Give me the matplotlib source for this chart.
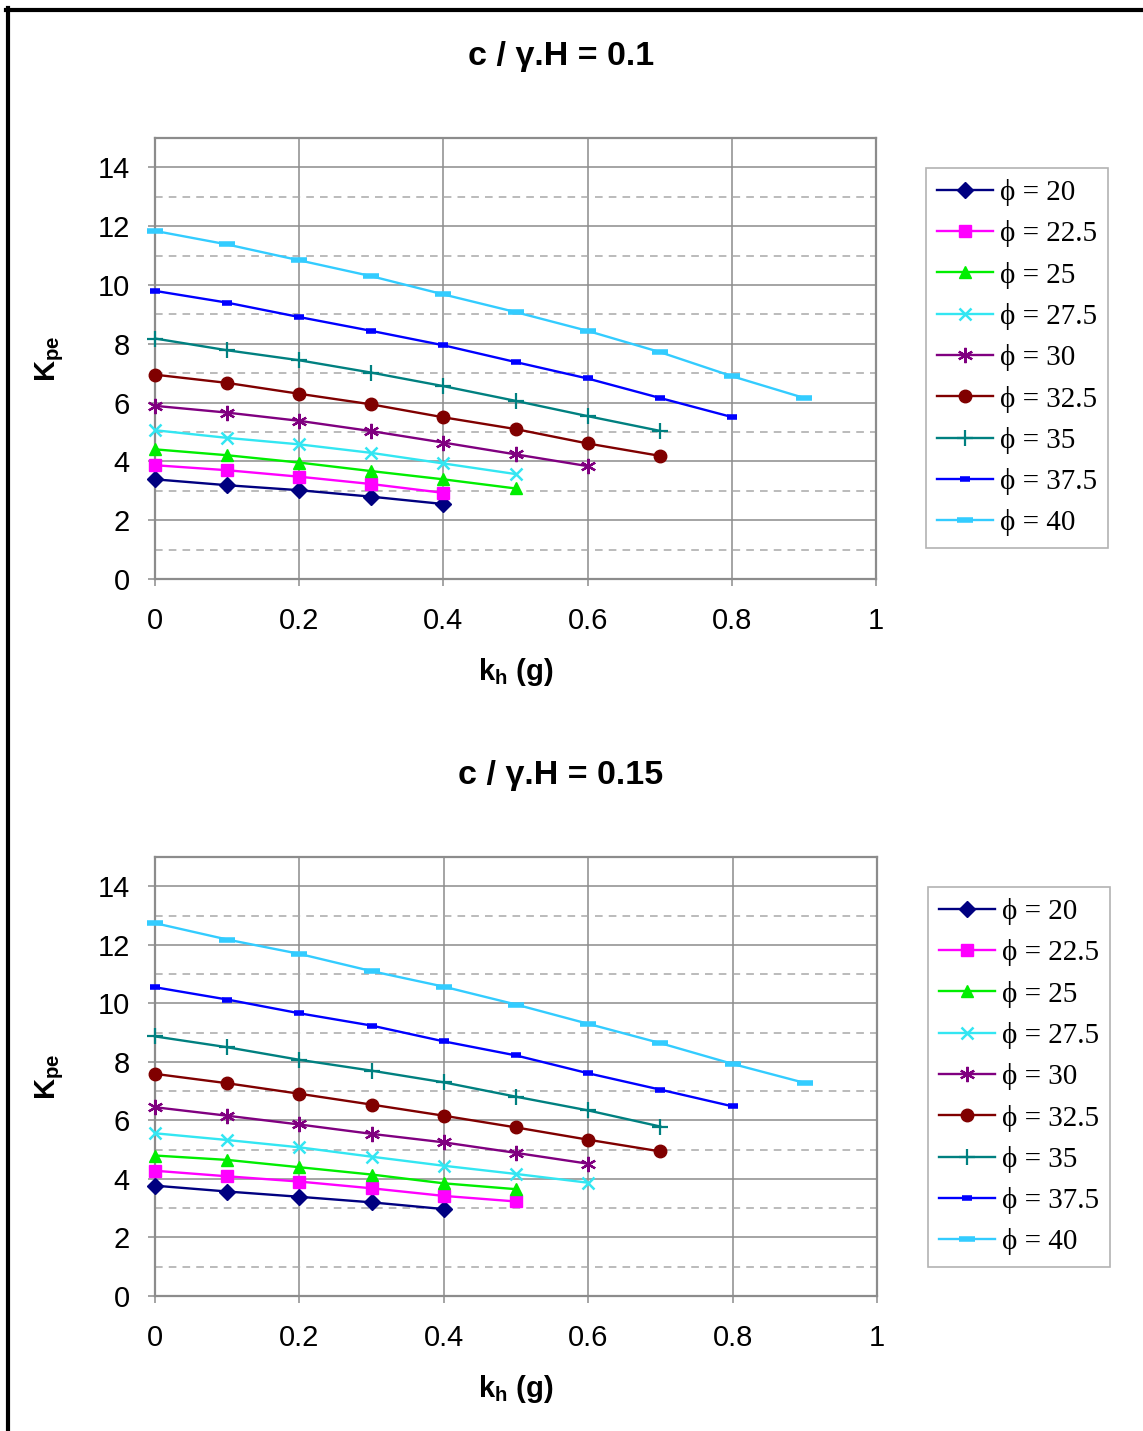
import matplotlib
matplotlib.use("Agg")
import matplotlib.pyplot as plt
from matplotlib.lines import Line2D
from matplotlib.ticker import FixedLocator

plt.rcParams["font.family"] = ["Liberation Sans", "DejaVu Sans"]
plt.rcParams["mathtext.fontset"] = "custom"
plt.rcParams["mathtext.rm"] = "Liberation Sans"
plt.rcParams["mathtext.bf"] = "Liberation Sans:bold"
plt.rcParams["mathtext.it"] = "Liberation Sans:italic"

# Horizontal seismic coefficient k_h (g)
kh = [0.0, 0.1, 0.2, 0.3, 0.4, 0.5, 0.6, 0.7, 0.8, 0.9]

# Friction angles (degrees)
phi = ["20", "22.5", "25", "27.5", "30", "32.5", "35", "37.5", "40"]

# Kpe for c / (gamma H) = 0.1
kpe_c010_phi20 = [3.39, 3.19, 3.02, 2.80, 2.55]
kpe_c010_phi225 = [3.87, 3.70, 3.48, 3.23, 2.93]
kpe_c010_phi25 = [4.41, 4.21, 3.96, 3.67, 3.39, 3.08]
kpe_c010_phi275 = [5.06, 4.80, 4.58, 4.29, 3.93, 3.57]
kpe_c010_phi30 = [5.89, 5.66, 5.38, 5.03, 4.64, 4.24, 3.84]
kpe_c010_phi325 = [6.95, 6.67, 6.30, 5.94, 5.50, 5.10, 4.61, 4.19]
kpe_c010_phi35 = [8.18, 7.78, 7.44, 7.02, 6.56, 6.06, 5.54, 5.04]
kpe_c010_phi375 = [9.80, 9.40, 8.91, 8.44, 7.95, 7.38, 6.82, 6.16, 5.51]
kpe_c010_phi40 = [11.84, 11.38, 10.84, 10.30, 9.68, 9.08, 8.44, 7.72, 6.90, 6.16]

# Kpe for c / (gamma H) = 0.15
kpe_c015_phi20 = [3.77, 3.57, 3.39, 3.20, 2.97]
kpe_c015_phi225 = [4.28, 4.09, 3.91, 3.68, 3.42, 3.23]
kpe_c015_phi25 = [4.80, 4.65, 4.40, 4.15, 3.85, 3.65]
kpe_c015_phi275 = [5.56, 5.33, 5.08, 4.76, 4.45, 4.17, 3.87]
kpe_c015_phi30 = [6.45, 6.16, 5.86, 5.54, 5.25, 4.89, 4.52]
kpe_c015_phi325 = [7.59, 7.27, 6.91, 6.54, 6.16, 5.76, 5.34, 4.94]
kpe_c015_phi35 = [8.87, 8.50, 8.07, 7.70, 7.30, 6.81, 6.34, 5.79]
kpe_c015_phi375 = [10.55, 10.13, 9.66, 9.24, 8.70, 8.22, 7.61, 7.05, 6.48]
kpe_c015_phi40 = [12.74, 12.18, 11.69, 11.10, 10.57, 9.96, 9.30, 8.64, 7.93, 7.28]

panels = [
    ("0.1", [kpe_c010_phi20, kpe_c010_phi225, kpe_c010_phi25, kpe_c010_phi275,
             kpe_c010_phi30, kpe_c010_phi325, kpe_c010_phi35, kpe_c010_phi375,
             kpe_c010_phi40]),
    ("0.15", [kpe_c015_phi20, kpe_c015_phi225, kpe_c015_phi25, kpe_c015_phi275,
              kpe_c015_phi30, kpe_c015_phi325, kpe_c015_phi35, kpe_c015_phi375,
              kpe_c015_phi40]),
]

# Series styles: (line colour, marker, marker size, marker edge width)
styles = [
    ("#000080", "D", 8, 1.0),
    ("#ff00ff", "s", 8, 1.0),
    ("#00ee00", "^", 9, 1.0),
    ("#33e6f2", "x", 9, 1.8),
    ("#800080", (6, 2, 0), 11, 1.6),
    ("#800000", "o", 9, 1.0),
    ("#008080", "+", 11, 1.6),
    ("#0000ff", "_", 7, 4.0),
    ("#33ccff", "_", 12, 4.0),
]

W, H = 1143, 1431
fig = plt.figure(figsize=(W / 100, H / 100), dpi=100)

def fx(px):
    return px / W

def fy(py):
    return 1 - py / H

# axes boxes in pixels: (left, top, right, bottom)
boxes = [(155, 138, 876, 579), (155, 857, 877, 1296)]
title_y = [57, 775]
legend_box = [(926, 168), (928, 887)]

grid_col = "#8c8c8c"
for (tag, series), (l, t, r, b), ty, (lx, ly) in zip(panels, boxes, title_y, legend_box):
    ax = fig.add_axes([fx(l), fy(b), fx(r - l), fy(t) - fy(b)])
    for vals, name, (col, mk, ms, mew) in zip(series, phi, styles):
        ax.plot(kh[:len(vals)], vals, color=col, lw=1.7, marker=mk, ms=ms,
                mew=mew, mfc=col, mec=col, label="ϕ = " + name, clip_on=False,
                zorder=3)
    ax.set_xlim(0, 1)
    ax.set_ylim(0, 15)
    ax.set_xticks([0, 0.2, 0.4, 0.6, 0.8, 1.0])
    ax.set_xticklabels(["0", "0.2", "0.4", "0.6", "0.8", "1"])
    ax.set_yticks(list(range(0, 15, 2)))
    ax.yaxis.set_minor_locator(FixedLocator([1, 3, 5, 7, 9, 11, 13]))
    ax.grid(True, which="major", color=grid_col, lw=1.1, zorder=0)
    ax.grid(True, which="minor", axis="y", color="#a8a8a8", lw=1.1,
            ls=(0, (5, 4)), zorder=0)
    ax.tick_params(which="minor", length=0)
    ax.tick_params(which="major", direction="out", length=5, width=1.1,
                   color=grid_col, labelsize=21, pad=13)
    ax.tick_params(axis="x", pad=15)
    for sp in ax.spines.values():
        sp.set_color(grid_col)
        sp.set_linewidth(1.6)
    ax.set_axisbelow(True)

    fig.text(fx(561), fy(ty), "c / γ.H = " + tag, ha="center", va="center",
             fontsize=24.5, fontweight="bold")
    fig.text(fx((l + r) / 2), fy(b + 93), r"$\mathbf{k_h}$ (g)", ha="center",
             va="center", fontsize=21, fontweight="bold")
    fig.text(fx(50), fy((t + b) / 2), r"$\mathbf{K_{pe}}$", ha="center",
             va="center", rotation=90, fontsize=21, fontweight="bold")

    leg = ax.legend(loc="upper left", bbox_to_anchor=(fx(lx), fy(ly)),
                    bbox_transform=fig.transFigure, borderaxespad=0,
                    frameon=True, fancybox=False, edgecolor="#a0a0a0",
                    prop={"family": ["Liberation Serif", "DejaVu Serif"],
                          "size": 21},
                    handlelength=1.9, handletextpad=0.25, labelspacing=0.49,
                    borderpad=0.38, numpoints=1)
    leg.get_frame().set_linewidth(1.2)

# page frame: top and left rules
fig.add_artist(Line2D([fx(6), 1.0], [fy(9.5), fy(9.5)], color="black", lw=3.0))
fig.add_artist(Line2D([fx(8), fx(8)], [fy(8), 0.0], color="black", lw=3.0))

fig.savefig("out.png", dpi=100)
